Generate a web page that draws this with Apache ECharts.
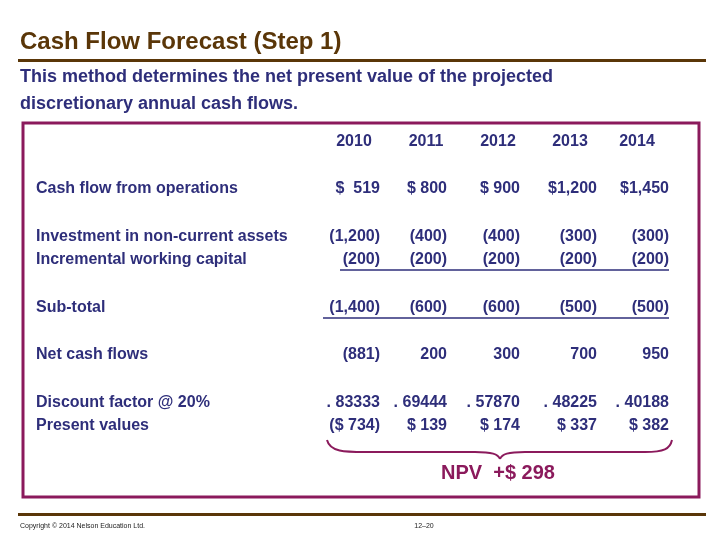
<!DOCTYPE html>
<html><head><meta charset="utf-8">
<script src="https://cdn.jsdelivr.net/npm/echarts@6/dist/echarts.min.js"></script>
<style>html,body{margin:0;padding:0;background:#fff}#c{width:720px;height:540px}</style>
</head><body><div id="c"></div>
<script>
const title = 'Cash Flow Forecast (Step 1)';
const subtitle = ['This method determines the net present value of the projected', 'discretionary annual cash flows.'];
const years = ['2010', '2011', '2012', '2013', '2014'];
const rowLabels = ['Cash flow from operations', 'Investment in non-current assets', 'Incremental working capital', 'Sub-total', 'Net cash flows', 'Discount factor @ 20%', 'Present values'];
const cashOps = ['$  519', '$ 800', '$ 900', '$1,200', '$1,450'];
const investment = ['(1,200)', '(400)', '(400)', '(300)', '(300)'];
const workingCap = ['(200)', '(200)', '(200)', '(200)', '(200)'];
const subTotal = ['(1,400)', '(600)', '(600)', '(500)', '(500)'];
const netFlows = ['(881)', '200', '300', '700', '950'];
const discount = ['. 83333', '. 69444', '. 57870', '. 48225', '. 40188'];
const presentVals = ['($ 734)', '$ 139', '$ 174', '$ 337', '$ 382'];
const npvText = 'NPV  +$ 298';

const NAVY = '#2e2e7a', BROWN = '#5a3608', CRIMSON = '#8b1a5c';
const FONT = '"Liberation Sans", Arial, sans-serif';
const colRight = [380, 447, 520, 597, 669];
const headCenter = [354, 426, 498, 570, 637];
const g = [];
function txt(x, y, s, o) {
  o = o || {};
  g.push({type: 'text', x, y, style: {text: s, fill: o.fill || NAVY, font: (o.weight || 'bold') + ' ' + (o.size || 16) + 'px ' + FONT,
    textAlign: o.align || 'left', textVerticalAlign: 'middle'}});
}
txt(20, 42, title, {fill: BROWN, size: 24});
g.push({type: 'rect', shape: {x: 18, y: 59, width: 688, height: 3}, style: {fill: BROWN}});
txt(20, 77, subtitle[0], {size: 18});
txt(20, 104, subtitle[1], {size: 18});
g.push({type: 'rect', shape: {x: 23, y: 123, width: 676, height: 374}, style: {fill: 'none', stroke: CRIMSON, lineWidth: 3}});
years.forEach((y, i) => txt(headCenter[i], 142, y, {align: 'center'}));
const rowY = [189, 237, 260, 308, 355, 403, 426];
rowLabels.forEach((l, i) => txt(36, rowY[i], l));
[cashOps, investment, workingCap, subTotal, netFlows, discount, presentVals].forEach((arr, r) => {
  arr.forEach((v, i) => txt(colRight[i], rowY[r], v, {align: 'right'}));
});
g.push({type: 'line', shape: {x1: 340, y1: 270, x2: 669, y2: 270}, style: {stroke: NAVY, lineWidth: 1.5}});
g.push({type: 'line', shape: {x1: 323, y1: 318, x2: 669, y2: 318}, style: {stroke: NAVY, lineWidth: 1.5}});
const braceStyle = {fill: 'none', stroke: CRIMSON, lineWidth: 2};
g.push({type: 'bezierCurve', shape: {x1: 327, y1: 440, cpx1: 330, cpy1: 452, cpx2: 345, cpy2: 452, x2: 365, y2: 452}, style: braceStyle});
g.push({type: 'line', shape: {x1: 365, y1: 452, x2: 475, y2: 452}, style: braceStyle});
g.push({type: 'bezierCurve', shape: {x1: 475, y1: 452, cpx1: 492, cpy1: 452, cpx2: 498, cpy2: 454, x2: 500, y2: 459}, style: braceStyle});
g.push({type: 'bezierCurve', shape: {x1: 500, y1: 459, cpx1: 502, cpy1: 454, cpx2: 508, cpy2: 452, x2: 525, y2: 452}, style: braceStyle});
g.push({type: 'line', shape: {x1: 525, y1: 452, x2: 645, y2: 452}, style: braceStyle});
g.push({type: 'bezierCurve', shape: {x1: 645, y1: 452, cpx1: 664, cpy1: 452, cpx2: 670, cpy2: 449, x2: 672, y2: 440}, style: braceStyle});
txt(498, 473, npvText, {fill: CRIMSON, size: 20, align: 'center'});
g.push({type: 'rect', shape: {x: 18, y: 513, width: 688, height: 3}, style: {fill: BROWN}});
txt(20, 526, 'Copyright © 2014 Nelson Education Ltd.', {size: 7, weight: 'normal', fill: '#222'});
txt(424, 526, '12–20', {size: 7, weight: 'normal', fill: '#222', align: 'center'});

const chart = echarts.init(document.getElementById('c'));
chart.setOption({animation: false, graphic: g});
</script></body></html>
